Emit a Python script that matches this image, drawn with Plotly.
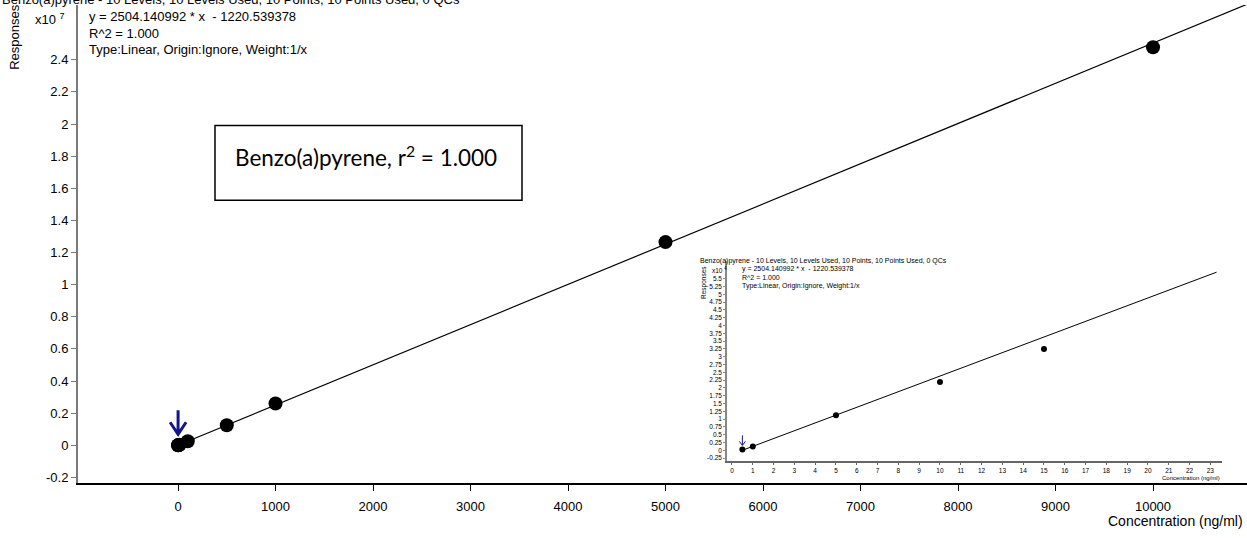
import plotly.graph_objects as go

# ---------------- data ----------------
conc_levels = [0.5, 1, 5, 10, 15, 100, 500, 1000, 5000, 10000]          # ng/ml
responses = [300, 1250, 11250, 21900, 32500, 250000, 1250000, 2600000, 12650000, 24780000]

inset_conc = [0.5, 1, 5, 10, 15]
inset_resp = [300, 1250, 11250, 21900, 32500]

slope = 2504.140992
intercept = -1220.539378
main_line_x = [0, 11000]
inset_line_x = [0.5, 23.3]

main_xticks = [0, 1000, 2000, 3000, 4000, 5000, 6000, 7000, 8000, 9000, 10000]
main_yticks = [-0.2, 0, 0.2, 0.4, 0.6, 0.8, 1, 1.2, 1.4, 1.6, 1.8, 2, 2.2, 2.4]   # x10^7
inset_yticks = [-0.25, 0, 0.25, 0.5, 0.75, 1, 1.25, 1.5, 1.75, 2, 2.25, 2.5, 2.75, 3,
                3.25, 3.5, 3.75, 4, 4.25, 4.5, 4.75, 5, 5.25, 5.5]                # x10^4
inset_xticks = list(range(0, 24))

title_text = "Benzo(a)pyrene - 10 Levels, 10 Levels Used, 10 Points, 10 Points Used, 0 QCs"
eq_lines = ["y = 2504.140992 * x  - 1220.539378", "R^2 = 1.000",
            "Type:Linear, Origin:Ignore, Weight:1/x"]

W, H = 1247, 538
FONT = "Liberation Sans, Arial, sans-serif"
ARROW = "#14148c"


def px(x):
    return x / W


def py(y):
    return 1 - y / H


def fmt(v):
    s = ("%.2f" % v).rstrip("0").rstrip(".")
    return "0" if s in ("-0", "") else s


fig = go.Figure()

# main regression line & points
fig.add_trace(go.Scatter(x=main_line_x, y=[slope * v + intercept for v in main_line_x],
                         mode="lines", line=dict(color="black", width=1.2),
                         xaxis="x", yaxis="y", showlegend=False, hoverinfo="skip"))
fig.add_trace(go.Scatter(x=conc_levels, y=responses, mode="markers",
                         marker=dict(color="black", size=14),
                         xaxis="x", yaxis="y", showlegend=False))

# inset
fig.add_trace(go.Scatter(x=inset_line_x, y=[slope * v + intercept for v in inset_line_x],
                         mode="lines", line=dict(color="black", width=1),
                         xaxis="x2", yaxis="y2", showlegend=False, hoverinfo="skip"))
fig.add_trace(go.Scatter(x=inset_conc, y=inset_resp, mode="markers",
                         marker=dict(color="black", size=6),
                         xaxis="x2", yaxis="y2", showlegend=False))

# main axes
x0p, x1p = 78, 1247
y0p, y1p = 485, 5
fig.update_layout(
    width=W, height=H, margin=dict(l=0, r=0, t=0, b=0),
    paper_bgcolor="white", plot_bgcolor="white",
    font=dict(family=FONT, color="black"),
    xaxis=dict(domain=[px(x0p), px(x1p)], range=[-1026, 10964],
               tickvals=main_xticks, ticktext=[str(v) for v in main_xticks],
               showline=True, linecolor="black", linewidth=1.5,
               ticks="outside", ticklen=6, tickcolor="black", tickwidth=1,
               ticklabelstandoff=4,
               tickfont=dict(size=13), showgrid=False, zeroline=False, anchor="y"),
    yaxis=dict(domain=[py(y0p), py(y1p)], range=[-0.236e7, 2.741e7],
               tickvals=[v * 1e7 for v in main_yticks], ticktext=[fmt(v) for v in main_yticks],
               showline=True, linecolor="#7a7a7a", linewidth=2,
               ticks="outside", ticklen=5, tickcolor="#7a7a7a", tickwidth=1,
               tickfont=dict(size=13), showgrid=False, zeroline=False, anchor="x"),
    xaxis2=dict(domain=[px(727), px(1222)], range=[-0.24, 23.56],
                tickvals=inset_xticks, ticktext=[str(v) for v in inset_xticks],
                showline=True, linecolor="#666666", linewidth=1.5,
                ticks="outside", ticklen=2, tickcolor="#666666",
                tickfont=dict(size=6.5), showgrid=False, zeroline=False, anchor="y2"),
    yaxis2=dict(domain=[py(463), py(262)], range=[-0.35e4, 6.07e4],
                tickvals=[v * 1e4 for v in inset_yticks], ticktext=[fmt(v) for v in inset_yticks],
                showline=True, linecolor="#888888", linewidth=1.5,
                ticks="outside", ticklen=2, tickcolor="#888888",
                tickfont=dict(size=6.5), showgrid=False, zeroline=False, anchor="x2"),
)

ann = []
# main header texts
ann.append(dict(x=px(0), y=py(-1), xref="paper", yref="paper", xanchor="left", yanchor="middle",
                text=title_text, showarrow=False, font=dict(size=13)))
ann.append(dict(x=px(33), y=py(19), xref="paper", yref="paper", xanchor="left", yanchor="middle",
                text="x10 <sup>7</sup>", showarrow=False, font=dict(size=13)))
for i, t in enumerate(eq_lines):
    ann.append(dict(x=px(87), y=py(17 + i * 16.5), xref="paper", yref="paper",
                    xanchor="left", yanchor="middle", text=t, showarrow=False,
                    font=dict(size=13)))
ann.append(dict(x=px(15), y=py(37), xref="paper", yref="paper", xanchor="center", yanchor="middle",
                text="Responses", textangle=-90, showarrow=False, font=dict(size=13)))
ann.append(dict(x=px(1245), y=py(523), xref="paper", yref="paper", xanchor="right", yanchor="middle",
                text="Concentration (ng/ml)", showarrow=False, font=dict(size=14)))

# text box
ann.append(dict(x=px(233), y=py(157), xref="paper", yref="paper", xanchor="left", yanchor="middle",
                text="Benzo(a)pyrene, r<sup>2</sup> = 1.000", showarrow=False,
                font=dict(family="Lato, Carlito, Calibri, sans-serif", size=22.5)))

# inset header texts
ann.append(dict(x=px(698), y=py(262), xref="paper", yref="paper", xanchor="left", yanchor="middle",
                text=title_text, showarrow=False, font=dict(size=7)))
ann.append(dict(x=px(710), y=py(271), xref="paper", yref="paper", xanchor="left", yanchor="middle",
                text="x10 <sup>4</sup>", showarrow=False, font=dict(size=6.5)))
for i, t in enumerate(eq_lines):
    ann.append(dict(x=px(740), y=py(270.5 + i * 8.3), xref="paper", yref="paper",
                    xanchor="left", yanchor="middle", text=t, showarrow=False,
                    font=dict(size=7)))
ann.append(dict(x=px(704), y=py(284), xref="paper", yref="paper", xanchor="center", yanchor="middle",
                text="Responses", textangle=-90, showarrow=False, font=dict(size=6.5)))
ann.append(dict(x=px(1222), y=py(480), xref="paper", yref="paper", xanchor="right", yanchor="middle",
                text="Concentration (ng/ml)", showarrow=False, font=dict(size=6)))
fig.update_layout(annotations=ann)

shapes = [
    dict(type="rect", xref="paper", yref="paper", x0=px(215), x1=px(522), y0=py(201), y1=py(126),
         line=dict(color="black", width=1.5), fillcolor="rgba(0,0,0,0)"),
    # main arrow (pixel path anchored at first level)
    dict(type="path", xref="x", yref="y", xsizemode="pixel", ysizemode="pixel",
         xanchor=conc_levels[0], yanchor=0,
         path="M0,35 L0,11 M-8,23 L0,11 L8,23",
         line=dict(color=ARROW, width=3)),
    # inset arrow
    dict(type="path", xref="x2", yref="y2", xsizemode="pixel", ysizemode="pixel",
         xanchor=inset_conc[0], yanchor=0,
         path="M0,15 L0,5 M-3,9 L0,5 L3,9",
         line=dict(color=ARROW, width=1)),
]
fig.update_layout(shapes=shapes)

fig.write_html("out.html")
